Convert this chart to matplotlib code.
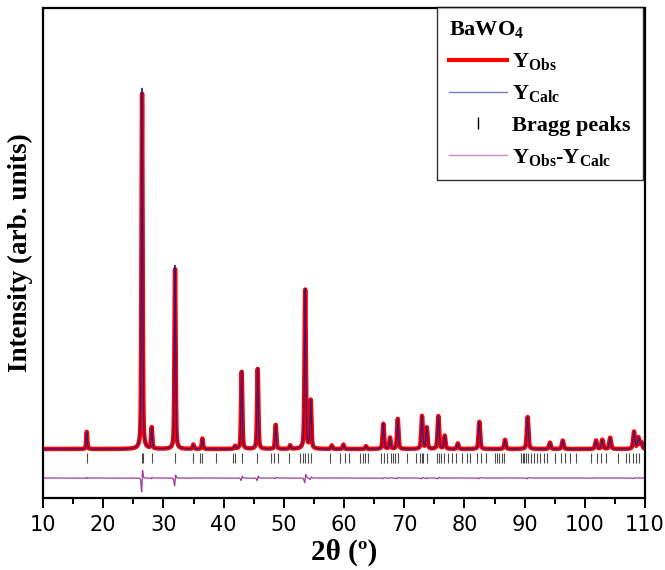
import numpy as np
import matplotlib
matplotlib.use("Agg")
import matplotlib.pyplot as plt
from matplotlib.lines import Line2D
from matplotlib.ticker import MultipleLocator

plt.rcParams['mathtext.fontset'] = 'custom'
plt.rcParams['mathtext.rm'] = 'Liberation Serif:bold'
plt.rcParams['mathtext.bf'] = 'Liberation Serif:bold'
plt.rcParams['mathtext.it'] = 'Liberation Serif:bold'

# ---- data (intensity in arb. counts) ----
peak_pos = [17.26, 26.45, 28.05, 31.93, 34.97, 36.47, 41.90, 43.00, 45.66, 48.65,
            51.05, 53.55, 54.47, 57.96, 59.90, 63.65, 66.53, 67.64, 68.92, 72.95,
            73.74, 75.67, 76.72, 78.90, 82.48, 86.74, 90.50, 94.20, 96.33, 101.86,
            102.90, 104.20, 108.17, 108.90, 109.40]
obs_height = [430, 8900, 530, 4500, 110, 260, 70, 1930, 2000, 600,
              90, 3980, 1200, 90, 110, 70, 630, 280, 750, 820,
              530, 820, 330, 140, 680, 230, 800, 160, 210, 210,
              230, 280, 430, 280, 160]
calc_height = [430, 9020, 530, 4590, 110, 260, 70, 1945, 2015, 600,
               90, 4000, 1210, 90, 110, 70, 635, 280, 755, 825,
               535, 825, 330, 140, 685, 230, 805, 160, 210, 210,
               230, 280, 435, 280, 160]
bragg_pos = [17.26, 26.45, 26.62, 28.16, 31.97, 34.95, 36.15, 36.45, 38.82, 41.6,
             41.9, 43.06, 45.6, 47.95, 48.45, 48.96, 50.86, 52.7, 53.2, 53.59,
             54.03, 54.47, 57.65, 59.36, 60.18, 60.82, 62.6, 63.1, 63.54, 63.98,
             66.2, 66.71, 67.15, 67.79, 68.1, 68.42, 68.93, 70.45, 71.91, 72.55,
             72.9, 73.18, 73.74, 75.4, 75.7, 76.03, 76.67, 77.3, 77.93, 78.57,
             79.52, 80.47, 80.98, 82.05, 82.69, 83.64, 85.03, 85.41, 85.8, 86.17,
             86.55, 89.35, 89.66, 89.98, 90.3, 90.61, 91.12, 91.56, 92.0, 92.51,
             93.15, 93.78, 95.05, 96.0, 96.63, 97.59, 98.54, 101.07, 102.0, 102.66,
             103.6, 105.5, 106.78, 107.4, 108.0, 108.5, 108.95]
two_theta_range = (10.0, 110.0)
obs_shift = 0.005
diff_offset = -725
bragg_span = (-90, -350)

# ---- profile from peak list ----
tt = np.arange(two_theta_range[0], two_theta_range[1] + 1e-9, 0.01)

def profile(x, pos, hts, shift=0.0):
    y = np.zeros_like(x)
    for p, h in zip(pos, hts):
        w = 0.20 + 0.0015 * (p - 10)
        g = np.exp(-4 * np.log(2) * ((x - p - shift) / w) ** 2)
        l = 1.0 / (1.0 + 4 * ((x - p - shift) / w) ** 2)
        y += h * (0.55 * g + 0.45 * l)
    return y

y_calc = profile(tt, peak_pos, calc_height)
y_obs = profile(tt, peak_pos, obs_height, obs_shift)
y_diff = y_obs - y_calc + diff_offset

fig = plt.figure(figsize=(6.65, 5.70), dpi=100)
ax = fig.add_axes([43/665, 72/570, (645-43)/665, (498-8)/570])

ax.plot(tt, y_obs, color='#ff0000', lw=3.2, solid_joinstyle='round', zorder=2)
ax.plot(tt, y_calc, color='#1c1c8a', lw=0.9, alpha=0.85, zorder=3)
ax.vlines(bragg_pos, bragg_span[1], bragg_span[0], color='black', lw=0.8, alpha=0.7, zorder=2)
ax.plot(tt, y_diff, color='#8a1a8a', lw=0.9, alpha=0.85, zorder=2)

ax.set_xlim(*two_theta_range)
ax.set_ylim(-1225, 11025)
ax.xaxis.set_major_locator(MultipleLocator(10))
ax.xaxis.set_minor_locator(MultipleLocator(5))
ax.tick_params(axis='x', which='major', direction='out', length=7, width=1.4,
               labelsize=15, pad=5)
ax.tick_params(axis='x', which='minor', direction='out', length=4, width=1.4)
ax.set_yticks([])
for s in ax.spines.values():
    s.set_linewidth(1.6)
    s.set_color('black')

ax.set_xlabel('2θ (º)', family='Liberation Serif', fontweight='bold', fontsize=21, labelpad=3)
ax.set_ylabel('Intensity (arb. units)', family='Liberation Serif', fontweight='bold',
              fontsize=19.5, labelpad=7)

handles = [Line2D([], [], color='#ff0000', lw=3.0),
           Line2D([], [], color='#7a7ac0', lw=1.0),
           Line2D([], [], color='black', lw=0, marker='|', markersize=8, markeredgewidth=1.0),
           Line2D([], [], color='#c88cc8', lw=1.0)]
labels = [r'$\mathbf{Y_{Obs}}$', r'$\mathbf{Y_{Calc}}$', 'Bragg peaks',
          r'$\mathbf{Y_{Obs}}$-$\mathbf{Y_{Calc}}$']
leg = ax.legend(handles, labels, loc='upper right', bbox_to_anchor=(0.997, 1.002),
                borderaxespad=0.0, frameon=True, fancybox=False, edgecolor='black',
                title=r'BaWO$_\mathbf{4}$', alignment='left', handlelength=2.6,
                handletextpad=0.25, labelspacing=0.5, borderpad=0.55,
                prop={'family': 'Liberation Serif', 'weight': 'bold', 'size': 16},
                title_fontproperties={'family': 'Liberation Serif', 'weight': 'bold', 'size': 16})
leg.get_frame().set_linewidth(1.0)

fig.savefig('out.png', dpi=100)
